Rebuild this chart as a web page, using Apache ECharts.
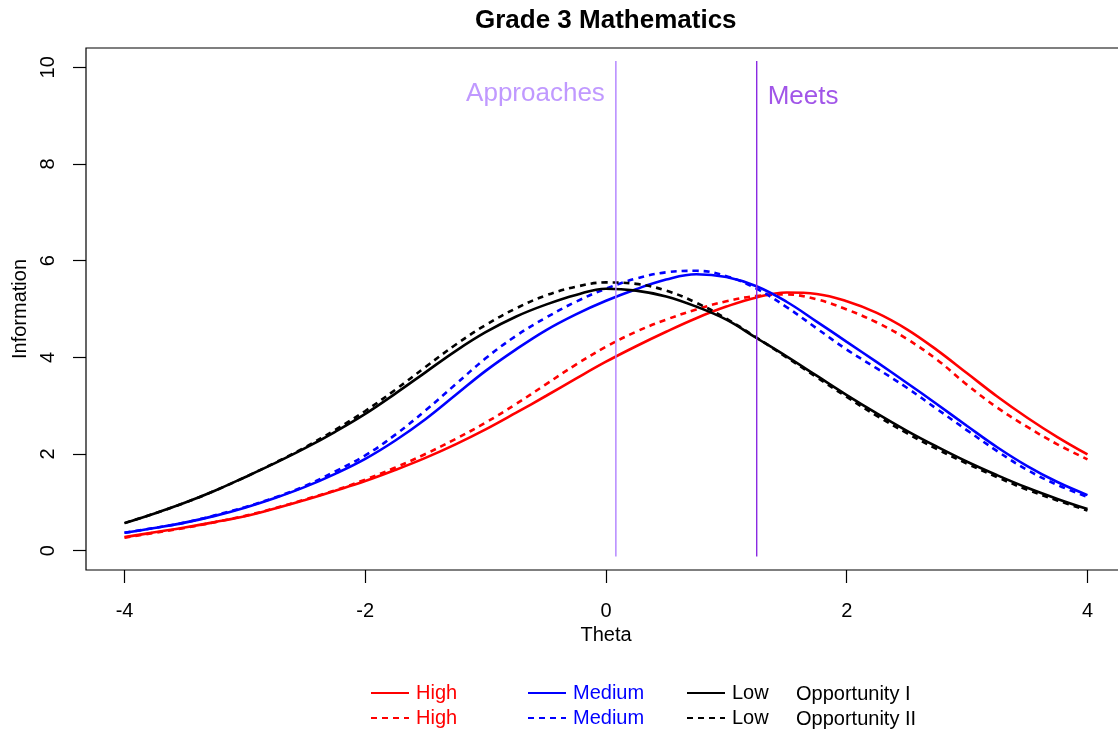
<!DOCTYPE html>
<html><head><meta charset="utf-8">
<script src="https://cdn.jsdelivr.net/npm/echarts@6/dist/echarts.min.js"></script>
<style>html,body{margin:0;padding:0;background:#fff}#c{width:1118px;height:736px}</style>
</head><body><div id="c"></div>
<script>
const theta = [-4,-3.75,-3.5,-3.25,-3,-2.75,-2.5,-2.25,-2,-1.75,-1.5,-1.25,-1,-0.75,-0.5,-0.25,0,0.25,0.5,0.75,1,1.25,1.5,1.75,2,2.25,2.5,2.75,3,3.25,3.5,3.75,4];
const highOpp1 = [0.28,0.38,0.48,0.59,0.71,0.87,1.05,1.24,1.44,1.67,1.92,2.2,2.51,2.85,3.2,3.56,3.91,4.23,4.53,4.81,5.05,5.24,5.34,5.31,5.16,4.92,4.58,4.15,3.67,3.19,2.75,2.35,1.99];
const highOpp2 = [0.27,0.37,0.47,0.59,0.72,0.88,1.06,1.25,1.47,1.72,2.0,2.31,2.65,3.03,3.44,3.85,4.22,4.53,4.78,4.99,5.16,5.27,5.3,5.2,4.99,4.72,4.38,3.95,3.43,2.96,2.56,2.2,1.89];
const medOpp1 = [0.37,0.47,0.58,0.72,0.89,1.09,1.32,1.59,1.9,2.28,2.72,3.22,3.72,4.16,4.56,4.89,5.17,5.41,5.61,5.72,5.66,5.47,5.15,4.74,4.32,3.9,3.47,3.03,2.58,2.14,1.75,1.42,1.15];
const medOpp2 = [0.37,0.47,0.58,0.73,0.9,1.1,1.34,1.64,1.97,2.4,2.9,3.44,3.98,4.44,4.82,5.15,5.42,5.63,5.76,5.79,5.68,5.42,5.04,4.6,4.16,3.77,3.37,2.93,2.49,2.06,1.67,1.36,1.11];
const lowOpp1 = [0.57,0.77,0.99,1.24,1.52,1.81,2.12,2.46,2.83,3.25,3.69,4.13,4.52,4.84,5.09,5.29,5.42,5.38,5.26,5.05,4.78,4.4,4.02,3.62,3.22,2.84,2.48,2.15,1.84,1.56,1.3,1.07,0.86];
const lowOpp2 = [0.57,0.77,0.99,1.24,1.52,1.82,2.14,2.5,2.89,3.33,3.8,4.26,4.67,5.01,5.28,5.46,5.55,5.52,5.38,5.13,4.8,4.41,4.0,3.59,3.18,2.79,2.43,2.1,1.8,1.52,1.26,1.04,0.83];
const cutScores = [0.082, 1.252];
const cutNames = ['Approaches', 'Meets'];
const cutLineRange = [-0.12, 10.13];
const cutLabelY = [9.45, 9.38];
const xTicks = [-4, -2, 0, 2, 4];
const yTicks = [0, 2, 4, 6, 8, 10];
const oppNames = ['Opportunity I', 'Opportunity II'];

const FONT = "'Liberation Sans', Arial, sans-serif";
const colors = {High: '#ff0000', Medium: '#0000ff', Low: '#000000'};
const cutColors = ['#b080ff', '#8a2be2'];

const curves = [
  {g: 'High', opp: 0, vals: highOpp1},
  {g: 'High', opp: 1, vals: highOpp2},
  {g: 'Medium', opp: 0, vals: medOpp1},
  {g: 'Medium', opp: 1, vals: medOpp2},
  {g: 'Low', opp: 0, vals: lowOpp1},
  {g: 'Low', opp: 1, vals: lowOpp2}
];

const series = curves.map(c => ({
  type: 'line',
  name: c.g + ' (' + oppNames[c.opp] + ')',
  data: theta.map((t, i) => [t, c.vals[i]]),
  smooth: 0.4,
  symbol: 'none',
  lineStyle: {color: colors[c.g], width: 2.6, type: c.opp ? [6, 5] : 'solid'},
  itemStyle: {color: colors[c.g]},
  emphasis: {disabled: true},
  z: 2
}));

cutScores.forEach((cs, k) => {
  series.push({
    type: 'line',
    name: 'cut' + k,
    data: cutLineRange.map(v => [cs, v]),
    symbol: 'none',
    lineStyle: {color: cutColors[k], width: 1.4},
    emphasis: {disabled: true},
    z: 3
  });
  series.push({
    type: 'scatter',
    name: 'cutlabel' + k,
    data: [[cs, cutLabelY[k]]],
    symbolSize: 0,
    label: {
      show: true,
      position: k === 0 ? 'left' : 'right',
      distance: 11,
      formatter: cutNames[k],
      color: cutColors[k],
      fontSize: 26,
      fontFamily: FONT
    },
    emphasis: {disabled: true},
    z: 4
  });
});

function legendCol(g, left) {
  return {
    left: left, top: 683, orient: 'vertical', itemGap: 5, padding: 0,
    itemWidth: 38, itemHeight: 14,
    selectedMode: false,
    itemStyle: {opacity: 0},
    data: oppNames.map(o => ({name: g + ' (' + o + ')', textStyle: {color: colors[g]}})),
    formatter: n => n.split(' (')[0],
    textStyle: {fontSize: 20, fontFamily: FONT, lineHeight: 20, padding: [0, 0, 0, 2]}
  };
}

const option = {
  backgroundColor: '#fff',
  animation: false,
  title: {
    text: 'Grade 3 Mathematics', left: 470, top: 3,
    textStyle: {fontSize: 26, fontWeight: 'bold', fontFamily: FONT, color: '#000'}
  },
  grid: {left: 86, top: 48, right: -8, bottom: 166, outerBoundsMode: 'none', containLabel: false,
         show: true, borderColor: '#000', borderWidth: 1.2, backgroundColor: 'transparent'},
  xAxis: {
    type: 'value', min: -4.32, max: 4.32,
    name: 'Theta', nameLocation: 'middle', nameGap: 52,
    nameTextStyle: {fontSize: 20, fontFamily: FONT, color: '#000'},
    axisLine: {show: false, onZero: false},
    axisTick: {show: true, inside: false, length: 13, customValues: xTicks, lineStyle: {color: '#000', width: 1.2}},
    axisLabel: {customValues: xTicks, margin: 31, fontSize: 20, fontFamily: FONT, color: '#000'},
    splitLine: {show: false}
  },
  yAxis: {
    type: 'value', min: -0.4, max: 10.4,
    name: 'Information', nameLocation: 'middle', nameGap: 53,
    nameTextStyle: {fontSize: 20, fontFamily: FONT, color: '#000'},
    axisLine: {show: false, onZero: false},
    axisTick: {show: true, inside: false, length: 13, customValues: yTicks, lineStyle: {color: '#000', width: 1.2}},
    axisLabel: {customValues: yTicks, margin: 28, rotate: 90, fontSize: 20, fontFamily: FONT, color: '#000'},
    splitLine: {show: false}
  },
  legend: [legendCol('High', 370), legendCol('Medium', 527), legendCol('Low', 686)],
  graphic: oppNames.map((o, i) => ({
    type: 'text', left: 796, top: 684 + i * 25,
    style: {text: o, fontSize: 20, fontFamily: FONT, fill: '#000'}
  })),
  series: series
};

const chart = echarts.init(document.getElementById('c'), null, {renderer: 'canvas'});
chart.setOption(option);
</script>
</body></html>
